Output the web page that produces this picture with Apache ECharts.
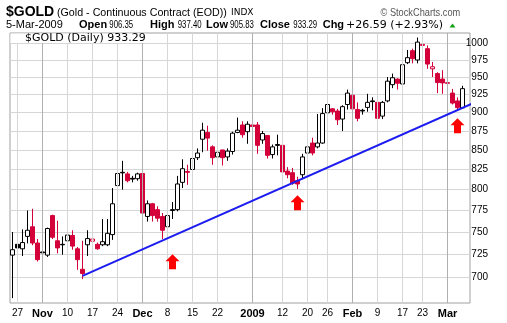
<!DOCTYPE html>
<html>
<head>
<meta charset="utf-8">
<script src="https://cdn.jsdelivr.net/npm/echarts@6/dist/echarts.min.js"></script>
<style>
  html, body { margin: 0; padding: 0; background: #fff; }
  #chart { width: 507px; height: 323px; }
</style>
</head>
<body>
<div id="chart"></div>
<script>
// Gold continuous contract, daily OHLC, 24 Oct 2008 – 5 Mar 2009
const dates = [
  '2008-10-24','2008-10-27','2008-10-28','2008-10-29','2008-10-30','2008-10-31',
  '2008-11-03','2008-11-04','2008-11-05','2008-11-06','2008-11-07',
  '2008-11-10','2008-11-11','2008-11-12','2008-11-13','2008-11-14',
  '2008-11-17','2008-11-18','2008-11-19','2008-11-20','2008-11-21',
  '2008-11-24','2008-11-25','2008-11-26','2008-11-27','2008-11-28',
  '2008-12-01','2008-12-02','2008-12-03','2008-12-04','2008-12-05',
  '2008-12-08','2008-12-09','2008-12-10','2008-12-11','2008-12-12',
  '2008-12-15','2008-12-16','2008-12-17','2008-12-18','2008-12-19',
  '2008-12-22','2008-12-23','2008-12-24','2008-12-26',
  '2008-12-29','2008-12-30','2008-12-31','2009-01-02',
  '2009-01-05','2009-01-06','2009-01-07','2009-01-08','2009-01-09',
  '2009-01-12','2009-01-13','2009-01-14','2009-01-15','2009-01-16',
  '2009-01-20','2009-01-21','2009-01-22','2009-01-23',
  '2009-01-26','2009-01-27','2009-01-28','2009-01-29','2009-01-30',
  '2009-02-02','2009-02-03','2009-02-04','2009-02-05','2009-02-06',
  '2009-02-09','2009-02-10','2009-02-11','2009-02-12','2009-02-13',
  '2009-02-17','2009-02-18','2009-02-19','2009-02-20',
  '2009-02-23','2009-02-24','2009-02-25','2009-02-26','2009-02-27',
  '2009-03-02','2009-03-03','2009-03-04','2009-03-05'
];
const opens = [
  724,736,731,745,756,737.5,727.5,724,769,740,
  736,740,746,731,708.5,735.5,739.5,736,735.5,735.5,
  747,805,821.5,819.5,814,813.5,820,768,783,776,
  768,756,776,776,809,822.5,825,840,864,873,
  854,841,850,841,848,873,883,874,883,883,
  863,869,844,857,856,823,821,811,818.5,846,
  859,854,859,899.5,905,902,891,911,924,904,
  903,907,916,914,895,916,939,947,940,971,
  989,975,998.5,992,962,955,947,941.8,927,916,
  906.35
];
const highs = [
  750,752,753,775,777,742,730,755,770,763,
  745,768,752,733,740,752,748,738,765,765,
  802,833,836,822,817,821,822,787,784,780,
  772,775,785,817,838,831,849,852,886,882,
  856,854,850,852,874,893,888,888,890,887,
  875,869,857,870,857,828,827,816,845,868,
  866,898,906,918,906,905,910,932,925,914,
  905,926,921,916,916,950,955,948,976,990,
  992,1009,1003,997,972,957,960,955,933,921,
  937.40
];
const lows = [
  678,706,723,737,735,717,721,722,742,726,
  724.5,737,730,708,698,723,737,730,734,734,
  741,789,800,809,809,811,764,762,762,762,
  742,754,765,774,802,806,820,837,847,849,
  831,836,830,836,844,872,866,858,878,845,
  858,839,839,843,816,814,806,801,813,824,
  843,852,858,892,897,883,875,904,900,888,
  897,901,903,890,891,914,934,932,936,969,
  970,970,976,962,950,927,926,927,911,902,
  905.83
];
const closes = [
  730,732,738,752,737.5,719,726.5,754,744,732,
  735.5,746.5,734,719,704,742.5,742,731,739,748.5,
  783,820,820.8,811,813,819.5,772,783,769,766,
  752,769,775,807,826,821.5,839,846,876,865.5,
  840,847,840,848.5,872,876,870,884,881,856,
  871.5,843,854,856,822,818.5,808,807,841,854,
  846,859,898.5,911,901,890,908,927,905,892,
  902,914,915,892,914,944,949,941,968,978.5,
  977,1002,997,969,965,942,941.5,941,913,906.70,
  933.29
];

// Axis ticks
const priceTicks = [700, 725, 750, 775, 800, 825, 850, 875, 900, 925, 950, 975, 1000];
const weekTickDates = ['2008-10-27','2008-11-03','2008-11-10','2008-11-17','2008-11-24',
  '2008-12-01','2008-12-08','2008-12-15','2008-12-22','2009-01-02','2009-01-12',
  '2009-01-20','2009-01-26','2009-02-02','2009-02-09','2009-02-17','2009-02-23','2009-03-02'];
const weekTickText = ['27','Nov','10','17','24','Dec','8','15','22','2009','12','20','26',
  'Feb','9','17','23','Mar'];
const monthTickDates = ['2008-11-03','2008-12-01','2009-01-02','2009-02-02','2009-03-02'];

// Support trendline (bar position, price) and signal arrows
const trendBars = [14, 92.84];
const trendPrices = [701.5, 915];
const arrowBars = [32, 57, 89];
const arrowPrices = [716.6, 784.2, 882];

const RED = '#d3003a';
const BLACK = '#000000';
const SANS = '"Liberation Sans", Arial, sans-serif';
const VERD = '"DejaVu Sans", Verdana, sans-serif';

const weekIdx = weekTickDates.map(d => dates.indexOf(d));
const monthIdx = monthTickDates.map(d => dates.indexOf(d));
const labelByIdx = {};
weekIdx.forEach((ix, k) => { labelByIdx[ix] = weekTickText[k]; });
const boldLabels = new Set(['Nov', 'Dec', '2009', 'Feb', 'Mar']);

// Black when the close is up from the prior close, red when down;
// hollow body when close > open, filled otherwise.
const candleData = opens.map((o, i) => {
  const c = closes[i];
  const prev = i > 0 ? closes[i - 1] : o;
  const col = c >= prev ? BLACK : RED;
  const fill = c > o ? '#ffffff' : col;
  return {
    value: [o, c, lows[i], highs[i]],
    itemStyle: { color: fill, color0: fill, borderColor: col, borderColor0: col, borderWidth: 1 }
  };
});

const nBars = dates.length + 1; // one empty slot after the last session
const categories = dates.concat(['']);

const last = closes.length - 1;
const chg = closes[last] - closes[last - 1];
const chgPct = chg / closes[last - 1] * 100;
const fmt = v => v.toFixed(2);
const sign = v => (v >= 0 ? '+' : '') + fmt(v);

// vertical grid: light weekly lines, darker month lines
const gridLines = weekIdx.map(ix => ({
  xAxis: ix,
  lineStyle: { color: monthIdx.includes(ix) ? '#b0b0b0' : '#d6d6d6', width: 1, type: 'solid', opacity: 1 }
}));

const chart = echarts.init(document.getElementById('chart'), null, { renderer: 'canvas' });

function txt(x, y, text, size, weight, family, fill, extra) {
  return Object.assign({
    type: 'text', x: x, y: y, z: 10,
    style: {
      text: text, fontSize: size, fontWeight: weight || 'normal',
      fontFamily: family || SANS, fill: fill || '#000',
      textVerticalAlign: 'middle', textAlign: 'left'
    }
  }, extra || {});
}

const L2 = 24.9;
const narrow = { scaleX: 0.78 };
const header = [
  txt(6, 12.4, '$GOLD', 14, 'bold'),
  txt(57, 12.6, '(Gold - Continuous Contract (EOD))', 10.7),
  txt(231, 12.9, 'INDX', 9, 'normal', VERD),
  txt(380.5, 12.6, '\u00a9 StockCharts.com', 11, 'normal', SANS, '#555555', { scaleX: 0.84 }),
  txt(6, L2, '5-Mar-2009', 11),
  txt(79, L2, 'Open', 11, 'bold'),
  txt(109.3, L2, fmt(opens[last]), 10, 'normal', SANS, '#000', narrow),
  txt(150, L2, 'High', 11, 'bold'),
  txt(177.7, L2, fmt(highs[last]), 10, 'normal', SANS, '#000', narrow),
  txt(206, L2, 'Low', 11, 'bold'),
  txt(230, L2, fmt(lows[last]), 10, 'normal', SANS, '#000', narrow),
  txt(260, L2, 'Close', 11, 'bold'),
  txt(293.3, L2, fmt(closes[last]), 10, 'normal', SANS, '#000', narrow),
  txt(322.7, L2, 'Chg', 11, 'bold'),
  txt(346, L2, sign(chg) + ' (' + sign(chgPct) + '%)', 11, 'normal', VERD)
];

const option = {
  animation: false,
  backgroundColor: '#ffffff',
  grid: {
    left: 10, right: 37, top: 33, bottom: 20,
    show: true, borderColor: '#a0a0a0', borderWidth: 1, backgroundColor: '#ffffff'
  },
  xAxis: [
    {
      type: 'category', data: categories, boundaryGap: true,
      axisLine: { show: false }, axisTick: { show: false }, axisLabel: { show: false },
      splitLine: { show: false }
    },
    {
      type: 'value', min: -0.5, max: nBars - 0.5, position: 'bottom',
      axisLine: { show: false },
      axisTick: { show: false, customValues: weekIdx },
      axisLabel: {
        customValues: weekIdx, margin: 5, color: '#000', fontFamily: SANS, fontSize: 10,
        formatter: v => {
          const t = labelByIdx[Math.round(v)] || '';
          return boldLabels.has(t) ? '{b|' + t + '}' : t;
        },
        rich: { b: { fontWeight: 'bold', fontSize: 11, fontFamily: SANS, color: '#000' } }
      },
      splitLine: { show: false }
    }
  ],
  yAxis: {
    type: 'log', logBase: 10, min: 673, max: 1016, position: 'right',
    axisLine: { show: false },
    axisTick: { show: false, customValues: priceTicks },
    axisLabel: {
      customValues: priceTicks, align: 'right', margin: 18,
      color: '#000', fontFamily: SANS, fontSize: 10,
      formatter: v => String(Math.round(v))
    },
    splitLine: { show: true, lineStyle: { color: '#d6d6d6', width: 1 } }
  },
  series: [
    {
      // carries the vertical grid lines only
      type: 'line', xAxisIndex: 1, yAxisIndex: 0, data: [], z: 1, silent: true,
      markLine: {
        silent: true, symbol: 'none', label: { show: false }, animation: false,
        emphasis: { disabled: true }, blur: { lineStyle: { opacity: 1 } },
        data: gridLines
      }
    },
    {
      type: 'candlestick', xAxisIndex: 0, yAxisIndex: 0,
      barWidth: 4, data: candleData, z: 3
    },
    {
      type: 'line', xAxisIndex: 1, yAxisIndex: 0, clip: false, z: 5,
      symbol: 'none', silent: true,
      lineStyle: { color: '#1c1cf0', width: 2 },
      data: trendBars.map((b, k) => [b, trendPrices[k]])
    },
    {
      type: 'scatter', xAxisIndex: 1, yAxisIndex: 0, z: 6, silent: true,
      symbol: 'path://M7 0L14 7L10.5 7L10.5 15L3.5 15L3.5 7L0 7Z',
      symbolSize: [14, 15],
      itemStyle: { color: '#ff0000', opacity: 1 },
      data: arrowBars.map((b, k) => [b, arrowPrices[k]])
    }
  ],
  graphic: [
    ...header,
    {
      type: 'polygon', z: 10,
      shape: { points: [[449.5, 27.5], [455.5, 27.5], [452.5, 23.5]] },
      style: { fill: '#19a019' }
    },
    // legend box inside the plot
    {
      type: 'rect', z: 10,
      shape: { x: 10.5, y: 33.5, width: 136, height: 9.5 },
      style: { fill: '#ffffff' }
    },
    {
      type: 'group', x: 12, y: 34, z: 11,
      children: [
        { type: 'rect', shape: { x: 0, y: 1, width: 1, height: 6 }, style: { fill: '#000' } },
        { type: 'rect', shape: { x: 1.5, y: 2, width: 2, height: 3 }, style: { fill: '#000' } },
        { type: 'rect', shape: { x: 4, y: 0, width: 1, height: 7 }, style: { fill: '#000' } },
        { type: 'rect', shape: { x: 5.5, y: 1, width: 2, height: 4 }, style: { fill: '#000' } },
        { type: 'rect', shape: { x: 8, y: 2, width: 1, height: 5 }, style: { fill: '#000' } }
      ]
    },
    txt(25, 38.3, '$GOLD (Daily) ' + fmt(closes[last]), 11, 'normal', VERD)
  ]
};

chart.setOption(option);
</script>
</body>
</html>
